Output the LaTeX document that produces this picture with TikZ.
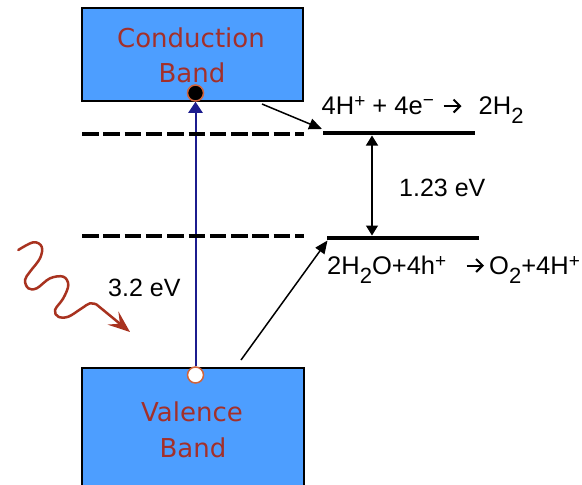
\documentclass[tikz,border=0pt]{standalone}
\usepackage{fontspec}
\setmainfont{Liberation Sans}
\newfontfamily\bandfont{DejaVu Sans}
\usetikzlibrary{arrows.meta}
\definecolor{bandblue}{HTML}{4D9EFF}
\definecolor{bandtext}{HTML}{A3302A}
\definecolor{dotring}{HTML}{D0643C}
\definecolor{navyline}{HTML}{1C1C8E}
\definecolor{photon}{HTML}{A8321F}
\newcommand\chsub[1]{\raisebox{-9.5pt}{\fontsize{22}{22}\selectfont #1}}
\newcommand\chsup[1]{\raisebox{6.5pt}{\fontsize{19}{19}\selectfont #1}}
\newcommand\chsupm[1]{\raisebox{8pt}{\fontsize{19}{19}\selectfont #1}}
\tikzset{
  band/.style={rectangle, draw=black, line width=2pt, fill=bandblue, inner sep=0pt},
  bandlabel/.style={font=\bandfont\fontsize{26}{30}\selectfont, text=bandtext, inner sep=0pt, anchor=base},
  carrier/.style={circle, minimum size=16pt, inner sep=0pt, draw=dotring, line width=1.5pt},
  level/.style={line width=4.5pt},
  dashlevel/.style={line width=4.5pt, dash pattern=on 16.5pt off 4.8pt},
  eq/.style={font=\fontsize{25.5}{30}\selectfont, inner sep=0pt, anchor=base west},
  reacts/.style={line width=2pt, -{Straight Barb[length=6.5pt,width=13pt]}},
  pointer/.style={line width=1.5pt, -{Triangle[length=13pt,width=11pt]}},
  gap/.style={line width=1.3pt, {Triangle[length=10pt,width=12pt]}-{Triangle[length=10pt,width=12pt]}},
  excite/.style={navyline, line width=2pt, -{Triangle[length=11pt,width=14pt]}},
  photonline/.style={photon, line width=2.5pt, line cap=round, line join=round, -{Stealth[length=22pt,width=17pt,inset=9pt]}}
}
\begin{document}
\begin{tikzpicture}[x=1pt,y=-1pt]
\clip (0,0) rectangle (582,485);
\fill[white] (0,0) rectangle (582,485);
% bands
\node[band, minimum width=221pt, minimum height=93pt] (cb) at (192.5,54.5) {};
\node[band, minimum width=222pt, minimum height=130pt, anchor=north] (vb) at (193,367) {};
\node[bandlabel] (cbt1) at (191,47) {Conduction};
\node[bandlabel] (cbt2) at (192,82) {Band};
\node[bandlabel] (vbt1) at (192,421) {Valence};
\node[bandlabel] (vbt2) at (193,457) {Band};
% carriers
\node[carrier, fill=black] (el) at (195.5,93) {};
\node[carrier, fill=white] (ho) at (195.5,375) {};
\draw[excite] (ho.north) -- (el.south);
% levels
\coordinate (d1a) at (82,134); \coordinate (d1b) at (304,134);
\coordinate (d2a) at (82,236); \coordinate (d2b) at (304,236);
\draw[dashlevel] (d1a) -- (d1b);
\draw[dashlevel] (d2a) -- (d2b);
\coordinate (l1a) at (323,133); \coordinate (l1b) at (475,133);
\coordinate (l2a) at (327,238); \coordinate (l2b) at (479,238);
\draw[level] (l1a) -- (l1b);
\draw[level] (l2a) -- (l2b);
% gap arrow
\coordinate (ga) at (372,135.5); \coordinate (gb) at (372,235.5);
\draw[gap] (ga) -- (gb);
\node[eq, font=\fontsize{25}{30}\selectfont] (gapt) at (399,196) {1.23 eV};
% pointers
\coordinate (p1s) at (262,104); \coordinate (p1e) at (322,129);
\draw[pointer] (p1s) -- (p1e);
\coordinate (p2s) at (241,360); \coordinate (p2e) at (327.5,240.5);
\draw[pointer] (p2s) -- (p2e);
% equations
\node[eq] (eqh1) at (321.5,114) {4H\chsup{+} + 4e\chsupm{−}};
\node[eq] (eqh2) at (478.5,114) {2H\chsub{2}};
\coordinate (rh1) at (443.5,106) ; \coordinate (rh2) at (461.5,106);
\draw[reacts] (rh1) -- (rh2);
\node[eq] (eqo1) at (327,274) {2H\chsub{2}O+4h\chsup{+}};
\node[eq] (eqo2) at (489,274) {O\chsub{2}+4H\chsup{+}};
\coordinate (ro1) at (466.5,265.5); \coordinate (ro2) at (484,265.5);
\draw[reacts] (ro1) -- (ro2);
\node[eq, font=\fontsize{25}{30}\selectfont] (ev) at (108,296) {3.2 eV};
% photon
\draw[photonline] plot[smooth, tension=0.6] coordinates {
  (18.3,250) (33.3,242.3) (41.7,246.7) (40,258.3) (30,271.7) (25,280)
  (28.3,288.3) (36.7,288.3) (50,278.3) (63.3,276.7) (68.3,285) (63.3,298.3)
  (55,310) (58.3,316.7) (68.3,316.7) (81.7,308.3) (90,303.3) (96.5,304.5)}
  -- (130,332);
\end{tikzpicture}
\end{document}
